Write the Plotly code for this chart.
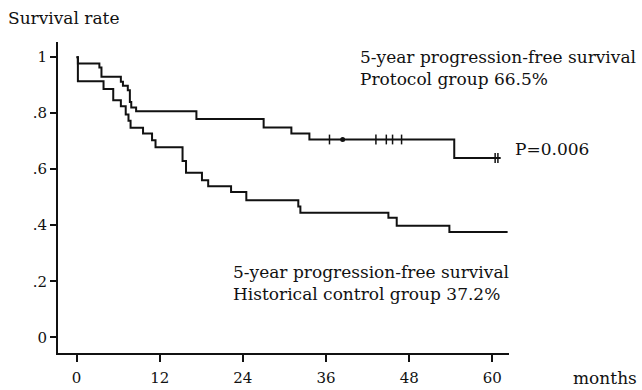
import plotly.graph_objects as go

# Kaplan-Meier step data (months, survival proportion)
protocol_months = [0, 0.2, 3.3, 3.6, 6.4, 6.7, 7.4, 7.7, 7.9, 8.6, 17.3, 27.0, 31.0, 33.6, 54.5, 61.2]
protocol_surv = [1.0, 0.977, 0.963, 0.930, 0.912, 0.898, 0.882, 0.840, 0.820, 0.807, 0.779, 0.749, 0.727, 0.706, 0.640, 0.640]

control_months = [0, 0.2, 3.9, 5.3, 6.4, 7.1, 7.5, 7.8, 9.6, 10.9, 11.4, 15.3, 15.8, 18.1, 19.0, 22.3, 24.5,
                  32.0, 32.3, 45.0, 46.2, 53.8, 62.2]
control_surv = [1.0, 0.914, 0.886, 0.846, 0.825, 0.795, 0.773, 0.748, 0.727, 0.703, 0.678, 0.629, 0.587, 0.561,
                0.539, 0.519, 0.489, 0.467, 0.445, 0.427, 0.398, 0.376, 0.376]

censor_months = [36.5, 43.2, 44.7, 45.6, 46.9, 60.4, 60.8]
censor_surv = [0.706, 0.706, 0.706, 0.706, 0.706, 0.640, 0.640]
dot_months = [38.4]
dot_surv = [0.706]

x_ticks = [0, 12, 24, 36, 48, 60]
x_tick_labels = ["0", "12", "24", "36", "48", "60"]
y_ticks = [0, 0.2, 0.4, 0.6, 0.8, 1.0]
y_tick_labels = ["0", ".2", ".4", ".6", ".8", "1"]

FONT = "DejaVu Serif"
BLACK = "#111111"

fig = go.Figure()
fig.add_trace(go.Scatter(x=protocol_months, y=protocol_surv, mode="lines",
                         line=dict(shape="hv", color=BLACK, width=2), hoverinfo="skip"))
fig.add_trace(go.Scatter(x=control_months, y=control_surv, mode="lines",
                         line=dict(shape="hv", color=BLACK, width=2), hoverinfo="skip"))
fig.add_trace(go.Scatter(x=censor_months, y=censor_surv, mode="markers",
                         marker=dict(symbol="line-ns-open", size=7, color=BLACK,
                                     line=dict(color=BLACK, width=1.5)),
                         hoverinfo="skip"))
fig.add_trace(go.Scatter(x=dot_months, y=dot_surv, mode="markers",
                         marker=dict(symbol="circle", size=5, color=BLACK), hoverinfo="skip"))

fig.update_layout(
    width=642, height=390,
    margin=dict(l=58, r=133, t=42, b=37),
    paper_bgcolor="white", plot_bgcolor="white",
    showlegend=False,
    font=dict(family=FONT, size=15, color=BLACK),
    xaxis=dict(range=[-2.67, 62.4], tickvals=x_ticks, ticktext=x_tick_labels,
               showgrid=False, zeroline=False, showline=True, linecolor=BLACK, linewidth=2,
               ticks="outside", ticklen=7, tickwidth=2, tickcolor=BLACK, automargin=False,
               ticklabelstandoff=3,
               tickfont=dict(family=FONT, size=15, color=BLACK)),
    yaxis=dict(range=[-0.056, 1.054], tickvals=y_ticks, ticktext=y_tick_labels,
               showgrid=False, zeroline=False, showline=True, linecolor=BLACK, linewidth=2,
               ticks="outside", ticklen=6, tickwidth=2, tickcolor=BLACK, automargin=False,
               tickfont=dict(family=FONT, size=15, color=BLACK)),
)

ann = dict(xref="paper", yref="paper", showarrow=False, align="left",
           font=dict(family=FONT, size=17, color=BLACK))
fig.add_annotation(text="Survival rate", x=-0.115, y=1.077, xanchor="left", yanchor="middle", **ann)
fig.add_annotation(text="5-year progression-free survival<br>Protocol group 66.5%",
                   x=0.665, y=0.99, xanchor="left", yanchor="top", **ann)
fig.add_annotation(text="5-year progression-free survival<br>Historical control group 37.2%",
                   x=0.383, y=0.30, xanchor="left", yanchor="top", **ann)
fig.add_annotation(text="P=0.006", x=1.009, y=0.655, xanchor="left", yanchor="middle", **ann)
fig.add_annotation(text="months", x=1.138, y=-0.081, xanchor="left", yanchor="middle", **ann)

fig.write_html("out.html", config={"displayModeBar": False},
               post_script="document.body.style.margin='0';")
